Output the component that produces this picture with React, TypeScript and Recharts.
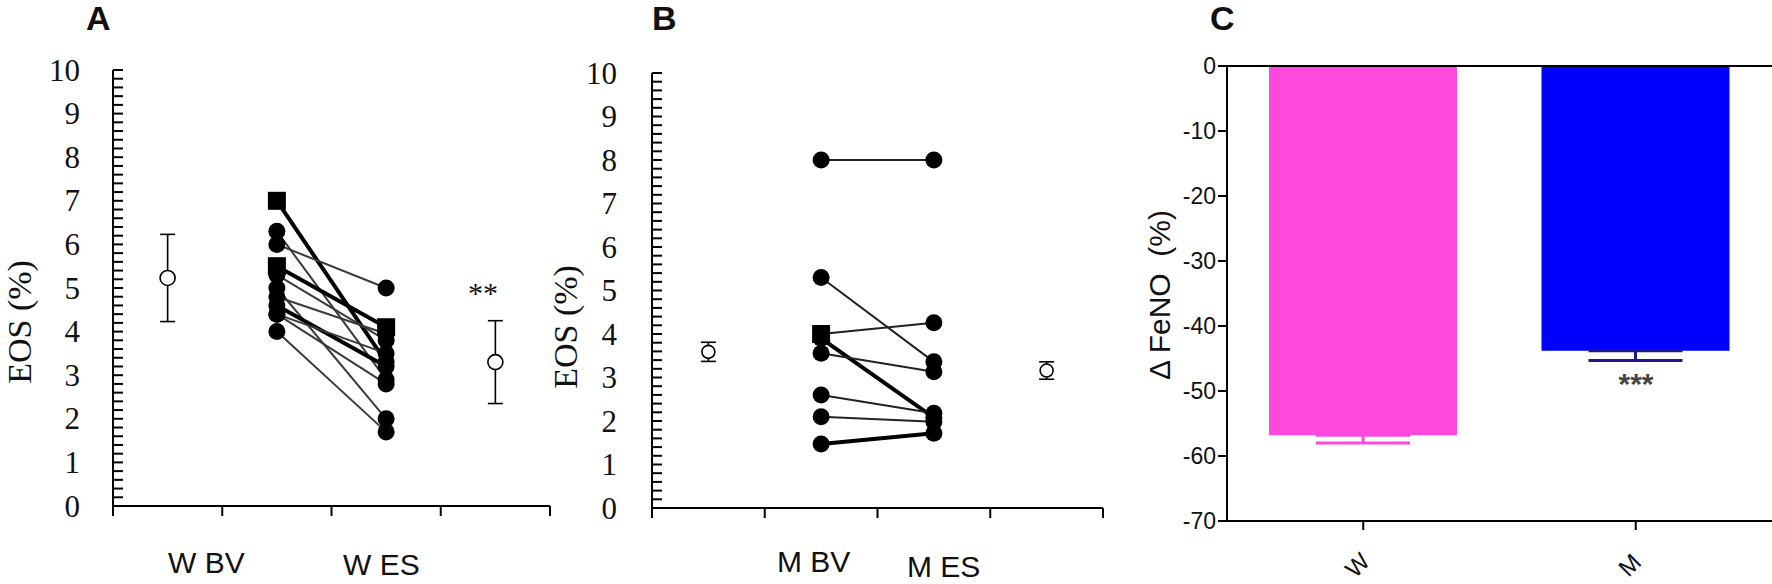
import { ScatterChart, Scatter, XAxis, YAxis, ErrorBar, BarChart, Bar, Cell, ReferenceLine } from 'recharts'

// Panel A: women, EOS (%) before (BV) and after (ES)
const wBV = [7.0, 6.3, 6.0, 5.5, 5.3, 5.0, 4.8, 4.6, 4.4, 4.4, 4.0]
const wES = [3.3, 2.9, 5.0, 4.1, 3.8, 2.0, 3.95, 3.2, 3.5, 2.8, 1.7]
const wThick = [true, false, false, true, false, false, false, true, false, false, false]
const wBVShape = ['square', 'circle', 'circle', 'square', 'circle', 'circle', 'circle', 'circle', 'circle', 'circle', 'circle']
const wESShape = ['circle', 'circle', 'circle', 'square', 'circle', 'circle', 'circle', 'circle', 'circle', 'circle', 'circle']
const wMean = [5.23, 3.3]
const wErr = [1.0, 0.95]

// Panel B: men
const mBV = [8.0, 5.3, 4.0, 3.9, 3.56, 2.6, 2.1, 1.47]
const mES = [8.0, 3.36, 4.26, 2.08, 3.13, 2.18, 1.98, 1.72]
const mThick = [false, false, false, true, false, false, false, true]
const mBVShape = ['circle', 'circle', 'square', 'circle', 'circle', 'circle', 'circle', 'circle']
const mESShape = ['circle', 'circle', 'circle', 'circle', 'circle', 'circle', 'circle', 'circle']
const mMean = [3.59, 3.16]
const mErr = [0.22, 0.2]

// Panel C: change in FeNO
const fenoCats = ['W', 'M']
const fenoValues = [-56.8, -43.8]
const fenoErr = [1.2, 1.5]
const fenoTicks = [0, -10, -20, -30, -40, -50, -60, -70]

const FENO_COLORS = ['#ff48dc', '#0000ff']

// ticks every 0.2 on the EOS axes, labelled at whole numbers
const eosMinor: number[] = []
for (let i = 0; i <= 50; i++) eosMinor.push(Math.round(i * 2) / 10)

// x positions: mean BV | BV | ES | mean ES
const POS = [0.5, 1.5, 2.5, 3.5]

const pairs = (bv: number[], es: number[]) =>
  bv.map((v, i) => [{ x: POS[1], y: v }, { x: POS[2], y: es[i] }])

const points = (bv: number[], es: number[], bs: string[], es2: string[]) => [
  ...bv.map((v, i) => ({ x: POS[1], y: v, shape: bs[i] })),
  ...es.map((v, i) => ({ x: POS[2], y: v, shape: es2[i] })),
]

const means = (m: number[], e: number[]) => [
  { x: POS[0], y: m[0], err: e[0] },
  { x: POS[3], y: m[1], err: e[1] },
]

const fenoData = fenoCats.map((name, i) => ({
  name,
  value: fenoValues[i],
  errW: i === 0 ? [fenoErr[i], 0] : undefined,
  errM: i === 1 ? [fenoErr[i], 0] : undefined,
}))

const serif = 'Liberation Serif, Times New Roman, serif'
const sans = 'Liberation Sans, Arial, sans-serif'

function makeEosTick(gap: number) {
  return (props: any) => {
    const { x, y, payload } = props
    const v = payload.value
    const major = Math.abs(v - Math.round(v)) < 1e-6
    return (
      <g>
        <line x1={x} x2={x + 10} y1={y} y2={y} stroke='#000' strokeWidth={2} />
        {major && (
          <text x={x - gap} y={y} dy='0.34em' textAnchor='end' fontFamily={serif} fontSize={31} fill='#111'>
            {Math.round(v)}
          </text>
        )}
      </g>
    )
  }
}

function DownTick(props: any) {
  const { x, y } = props
  return <line x1={x} x2={x} y1={y} y2={y + 10} stroke='#000' strokeWidth={2} />
}

function SubjectDot(props: any) {
  const { cx, cy, payload } = props
  if (cx == null || cy == null) return <g />
  if (payload.shape === 'square') return <rect x={cx - 9} y={cy - 9} width={18} height={18} fill='#000' />
  return <circle cx={cx} cy={cy} r={8.5} fill='#000' />
}

function makeMeanDot(r: number) {
  return (props: any) => {
    const { cx, cy } = props
    return <circle cx={cx} cy={cy} r={r} fill='#fff' stroke='#000' strokeWidth={1.6} />
  }
}

const NoDot = () => <g />

function PairedPanel({ bv, es, thick, bvShape, esShape, mean, err, gap, meanR, thin, axisW }: any) {
  return [
    <XAxis key='x' type='number' dataKey='x' domain={[0, 4]} ticks={[0, 1, 2, 3, 4]} interval={0}
      tick={<DownTick />} tickLine={false} tickSize={0} tickMargin={0} height={1}
      axisLine={{ stroke: '#000', strokeWidth: 2 }} />,
    <YAxis key='y' type='number' dataKey='y' domain={[0, 10]} ticks={eosMinor} interval={0}
      tick={makeEosTick(gap)} tickLine={false} tickSize={0} tickMargin={0} width={axisW}
      axisLine={{ stroke: '#000', strokeWidth: 2 }} />,
    <Scatter key='mean' data={means(mean, err)} shape={makeMeanDot(meanR)} isAnimationActive={false}>
      <ErrorBar dataKey='err' direction='y' width={7.5} stroke='#000' strokeWidth={1.6} />
    </Scatter>,
    ...pairs(bv, es).map((d, i) => (
      <Scatter key={'p' + i} data={d} shape={NoDot} isAnimationActive={false}
        line={{ stroke: thick[i] ? '#000' : thin, strokeWidth: thick[i] ? 4 : 2 }} lineType='joint' />
    )),
    <Scatter key='pts' data={points(bv, es, bvShape, esShape)} shape={SubjectDot} isAnimationActive={false} />,
  ]
}

function FenoXTick(props: any) {
  const { x, y, payload } = props
  return (
    <g transform={`translate(${x - 6},${y + 33}) rotate(-45)`}>
      <text textAnchor='middle' dy='0.35em' fontFamily={sans} fontSize={24} fill='#111'>{payload.value}</text>
    </g>
  )
}

export default function App() {
  return (
    <div style={{ position: 'absolute', left: 0, top: 0, width: 1772, height: 584, background: '#fff', overflow: 'hidden' }}>
      <div style={{ position: 'absolute', left: 0, top: 0 }}>
        <ScatterChart width={560} height={584} margin={{ top: 70, right: 10, bottom: 77, left: 0 }}>
          {PairedPanel({ bv: wBV, es: wES, thick: wThick, bvShape: wBVShape, esShape: wESShape, mean: wMean, err: wErr, gap: 33, meanR: 7.5, thin: '#3a3a3a', axisW: 113 })}
        </ScatterChart>
      </div>
      <div style={{ position: 'absolute', left: 540, top: 0 }}>
        <ScatterChart width={573} height={584} margin={{ top: 73, right: 10, bottom: 75, left: 0 }}>
          {PairedPanel({ bv: mBV, es: mES, thick: mThick, bvShape: mBVShape, esShape: mESShape, mean: mMean, err: mErr, gap: 35, meanR: 6.5, thin: '#222', axisW: 112 })}
        </ScatterChart>
      </div>
      <div style={{ position: 'absolute', left: 1100, top: 0 }}>
        <BarChart width={672} height={584} data={fenoData} margin={{ top: 66, right: 0, bottom: 62, left: 0 }}>
          <XAxis dataKey='name' tick={<FenoXTick />} tickSize={9} height={1} interval={0}
            tickLine={{ stroke: '#000', strokeWidth: 2 }} axisLine={{ stroke: '#000', strokeWidth: 2 }} />
          <YAxis domain={[-70, 0]} ticks={fenoTicks} interval={0} width={127} tickSize={9} tickMargin={2}
            tick={{ fontFamily: sans, fontSize: 23, fill: '#111' }}
            tickLine={{ stroke: '#000', strokeWidth: 2 }} axisLine={{ stroke: '#000', strokeWidth: 2 }} />
          <ReferenceLine y={0} stroke='#000' strokeWidth={2} />
          <Bar dataKey='value' barSize={188} isAnimationActive={false}>
            {fenoData.map((_, i) => <Cell key={i} fill={FENO_COLORS[i]} />)}
            <ErrorBar dataKey='errW' direction='y' width={47} stroke='#ff48dc' strokeWidth={3} />
            <ErrorBar dataKey='errM' direction='y' width={47} stroke='#1a1a8c' strokeWidth={3} />
          </Bar>
        </BarChart>
      </div>
      <svg width={1772} height={584} style={{ position: 'absolute', left: 0, top: 0, pointerEvents: 'none' }}>
        <text x={86} y={30} fontFamily={sans} fontWeight='bold' fontSize={34} fill='#111'>A</text>
        <text x={652} y={30} fontFamily={sans} fontWeight='bold' fontSize={34} fill='#111'>B</text>
        <text x={1210} y={30} fontFamily={sans} fontWeight='bold' fontSize={34} fill='#111'>C</text>
        <text transform='translate(20,322) rotate(-90)' textAnchor='middle' dy='0.33em' fontFamily={serif} fontSize={34} fill='#111'>EOS (%)</text>
        <text transform='translate(566,327) rotate(-90)' textAnchor='middle' dy='0.33em' fontFamily={serif} fontSize={34} fill='#111'>EOS (%)</text>
        <text transform='translate(1159,295) rotate(-90)' textAnchor='middle' dy='0.35em' fontFamily={sans} fontSize={30} fill='#111'>{'Δ FeNO\u00a0\u00a0(%)'}</text>
        <text x={168} y={573} fontFamily={sans} fontSize={30} fill='#111'>W BV</text>
        <text x={343} y={575} fontFamily={sans} fontSize={30} fill='#111'>W ES</text>
        <text x={777} y={572} fontFamily={sans} fontSize={30} fill='#111'>M BV</text>
        <text x={907} y={577} fontFamily={sans} fontSize={30} fill='#111'>M ES</text>
        <text x={483} y={303} textAnchor='middle' fontFamily={serif} fontSize={30} fill='#111'>**</text>
        <text x={1636} y={394} textAnchor='middle' fontFamily={sans} fontWeight='bold' fontSize={30} fill='#444'>***</text>
      </svg>
    </div>
  )
}
